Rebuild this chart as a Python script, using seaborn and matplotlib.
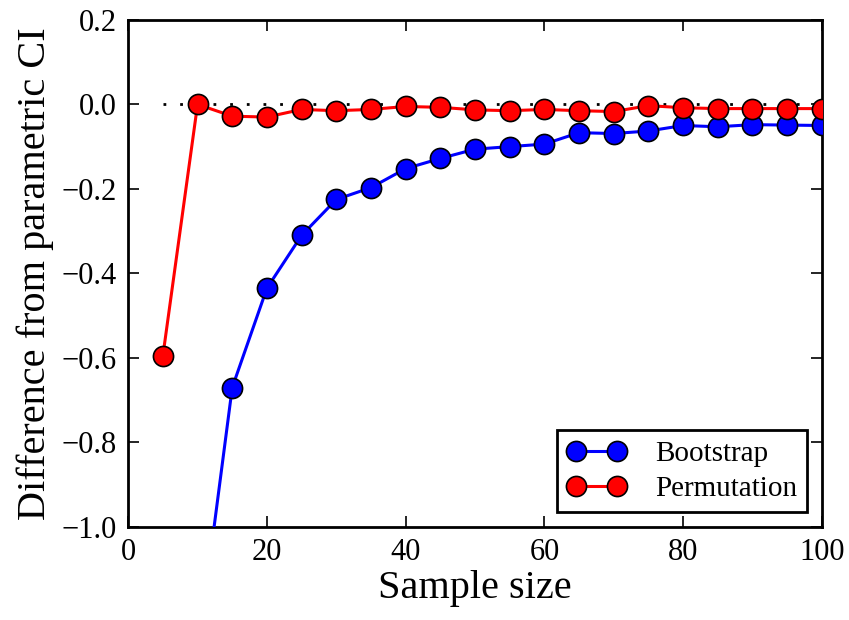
import numpy as np
import pandas as pd
import matplotlib
matplotlib.use("Agg")
import matplotlib.pyplot as plt
import seaborn as sns

# --- data ---
sample_size = [5, 10, 15, 20, 25, 30, 35, 40, 45, 50, 55, 60, 65, 70, 75, 80, 85, 90, 95, 100]
bootstrap = [-2.4, -1.3, -0.67, -0.435, -0.31, -0.225, -0.197, -0.152, -0.128, -0.106,
             -0.100, -0.094, -0.067, -0.069, -0.063, -0.050, -0.053, -0.048, -0.049, -0.050]
permutation = [-0.595, 0.0, -0.028, -0.030, -0.012, -0.015, -0.012, -0.005, -0.007, -0.013,
               -0.015, -0.012, -0.015, -0.017, -0.003, -0.008, -0.010, -0.010, -0.010, -0.010]
methods = ["Bootstrap", "Permutation"]
colors = {"Bootstrap": "#0000ff", "Permutation": "#ff0000"}
x_ticks = [0, 20, 40, 60, 80, 100]
y_ticks = [-1.0, -0.8, -0.6, -0.4, -0.2, 0.0, 0.2]
y_ticklabels = ["\u22121.0", "\u22120.8", "\u22120.6", "\u22120.4", "\u22120.2", "0.0", "0.2"]

df = pd.DataFrame({
    "Sample size": sample_size * 2,
    "diff": bootstrap + permutation,
    "method": ["Bootstrap"] * len(sample_size) + ["Permutation"] * len(sample_size),
})

sns.set_style("ticks")
plt.rcParams["font.family"] = ["Liberation Serif", "DejaVu Serif"]
plt.rcParams["text.color"] = "black"
plt.rcParams["axes.labelcolor"] = "black"
plt.rcParams["xtick.color"] = "black"
plt.rcParams["ytick.color"] = "black"

fig = plt.figure(figsize=(8.49, 6.2), dpi=100)
ax = fig.add_axes([0.151, 0.15, 0.817, 0.818])

# reference line at zero
ax.hlines(0, 5, 100, colors="k", linestyles=(0, (1, 5)), linewidth=2, zorder=1)

sns.lineplot(data=df, x="Sample size", y="diff", hue="method", hue_order=methods,
             palette=colors, marker="o", markersize=14.5, markeredgecolor="black",
             markeredgewidth=1.2, linewidth=2.2, ax=ax, zorder=3)

ax.set_xlim(0, 100)
ax.set_ylim(-1.0, 0.2)
ax.set_xticks(x_ticks)
ax.set_yticks(y_ticks)
ax.set_yticklabels(y_ticklabels)
ax.tick_params(direction="in", length=8, width=1.2, labelsize=22, top=True, right=True,
               pad=8, colors="black")
for s in ax.spines.values():
    s.set_visible(True)
    s.set_linewidth(2)
    s.set_color("black")

ax.set_xlabel("Sample size", fontsize=29, labelpad=2, color="black")
ax.set_ylabel("Difference from parametric CI", fontsize=29, labelpad=6, color="black")

leg = ax.legend(loc="lower right", numpoints=2, fontsize=21, frameon=True, fancybox=False,
                borderpad=0.35, handlelength=2.0, handletextpad=1.0, labelspacing=0.3,
                borderaxespad=0.5)
leg.get_frame().set_edgecolor("black")
leg.get_frame().set_linewidth(2)
leg.get_frame().set_alpha(1)
for t in leg.get_texts():
    t.set_color("black")

fig.savefig("out.png", dpi=100)
